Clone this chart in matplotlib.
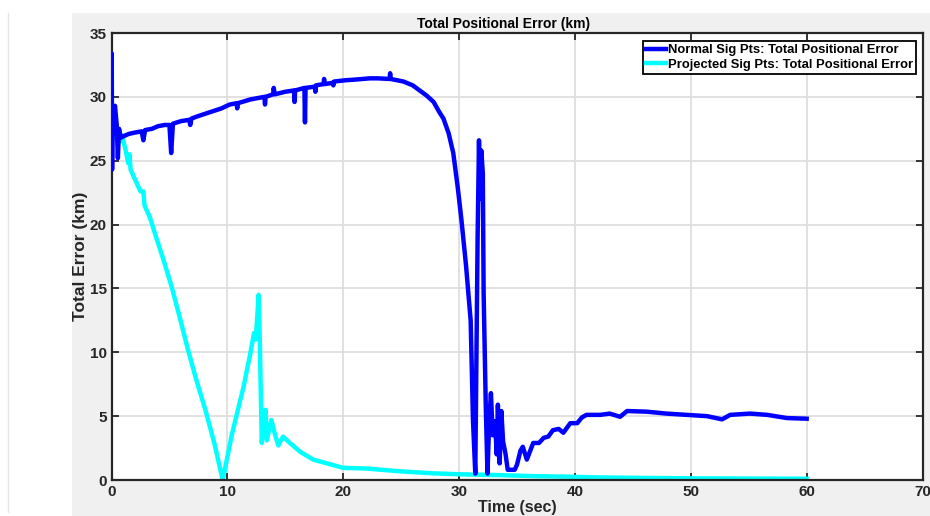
#!/usr/bin/env python3
"""Total positional error: normal vs projected sigma points."""

import matplotlib

matplotlib.use("Agg")
import matplotlib.pyplot as plt
from matplotlib.lines import Line2D
from matplotlib.patches import Rectangle

# Normal sigma points
normal_t = [
    0.00, 0.02, 0.05, 0.10, 0.20, 0.30, 0.45, 0.55, 0.65, 0.80,
    1.00, 1.50, 2.00, 2.60, 2.75, 2.90, 3.50, 4.00, 4.60, 5.00,
    5.15, 5.30, 6.00, 6.70, 6.80, 6.90, 7.50, 8.50, 9.50, 10.20,
    10.80, 10.85, 10.90, 12.00, 13.20, 13.25, 13.30, 13.95, 14.00, 14.10,
    15.00, 15.75, 15.80, 15.85, 16.65, 16.70, 16.75, 17.55, 17.60, 17.65,
    18.30, 18.35, 18.40, 19.10, 19.15, 19.20, 20.20, 21.00, 22.30, 23.00,
    24.00, 24.05, 24.10, 25.20, 26.00, 26.60, 27.20, 27.80, 28.30, 28.65,
    29.10, 29.50, 29.90, 30.20, 30.60, 31.00, 31.20, 31.40, 31.50, 31.60,
    31.72, 31.80, 31.92, 32.05, 32.12, 32.30, 32.45, 32.60, 32.75, 32.90,
    33.10, 33.25, 33.35, 33.50, 33.65, 33.80, 34.00, 34.20, 34.80, 35.00,
    35.30, 35.50, 35.85, 36.40, 36.90, 37.30, 37.70, 38.10, 38.60, 39.00,
    39.60, 40.20, 40.60, 41.00, 42.20, 43.00, 43.90, 44.50, 46.20, 47.90,
    49.70, 51.40, 52.70, 53.40, 55.10, 56.60, 58.30, 60.00,
]
normal_err = [
    27.5, 33.4, 24.3, 29.0, 28.5, 29.3, 27.8, 25.2, 27.5, 26.8,
    26.9, 27.1, 27.2, 27.3, 26.6, 27.4, 27.5, 27.7, 27.8, 27.8,
    25.6, 27.9, 28.1, 28.2, 27.8, 28.3, 28.5, 28.8, 29.1, 29.4,
    29.5, 29.1, 29.5, 29.8, 30.0, 29.4, 30.0, 30.2, 30.7, 30.2,
    30.4, 30.5, 29.6, 30.5, 30.7, 28.0, 30.7, 30.8, 30.4, 30.9,
    31.0, 31.4, 31.0, 31.1, 30.9, 31.2, 31.3, 31.35, 31.45, 31.45,
    31.4, 31.85, 31.4, 31.2, 30.9, 30.5, 30.1, 29.6, 28.8, 28.3,
    27.15, 25.6, 22.8, 20.4, 16.8, 12.5, 4.7, 0.5, 10.0, 19.0,
    26.6, 22.0, 25.8, 24.0, 14.6, 6.0, 0.5, 4.5, 6.8, 3.5,
    4.6, 2.0, 5.9, 1.3, 5.4, 3.0, 2.1, 0.8, 0.8, 1.2,
    2.3, 2.6, 1.6, 2.9, 2.9, 3.3, 3.4, 3.9, 4.0, 3.7,
    4.45, 4.45, 4.9, 5.1, 5.1, 5.2, 4.95, 5.4, 5.35, 5.2,
    5.1, 5.0, 4.75, 5.1, 5.2, 5.1, 4.85, 4.8,
]

# Projected sigma points
proj_t = [
    0.00, 0.15, 0.30, 0.50, 0.70, 0.90, 1.20, 1.45, 1.55, 1.65,
    2.00, 2.50, 2.75, 2.85, 3.30, 3.75, 4.50, 5.20, 5.90, 6.60,
    7.30, 8.10, 8.90, 9.60, 10.40, 11.40, 12.00, 12.30, 12.45, 12.70,
    12.80, 12.97, 13.15, 13.30, 13.40, 13.80, 14.10, 14.40, 14.80, 15.40,
    16.30, 17.40, 18.60, 20.00, 22.00, 24.90, 27.80, 30.10, 33.50, 36.50,
    39.30, 42.20, 46.00, 50.00, 55.00, 60.00,
]
proj_err = [
    27.8, 26.8, 27.6, 27.2, 26.5, 27.0, 25.9, 24.8, 25.5, 24.3,
    23.6, 22.6, 22.6, 21.5, 20.6, 19.3, 17.2, 15.1, 12.7, 10.2,
    7.9, 5.5, 2.8, 0.0, 3.6, 7.3, 10.0, 11.5, 11.0, 14.5,
    10.9, 2.9, 4.8, 5.5, 3.1, 4.7, 3.6, 2.7, 3.4, 2.9,
    2.2, 1.6, 1.3, 0.95, 0.9, 0.68, 0.52, 0.45, 0.38, 0.30,
    0.26, 0.20, 0.16, 0.13, 0.11, 0.10,
]

x_ticks = [0, 10, 20, 30, 40, 50, 60, 70]
y_ticks = [0, 5, 10, 15, 20, 25, 30, 35]
legend_labels = [
    "Normal Sig Pts: Total Positional Error",
    "Projected Sig Pts: Total Positional Error",
]

BLUE = "#0000ff"
CYAN = "#00ffff"
AXIS_COLOR = "#262626"
GRID_COLOR = "#dedede"
BG_COLOR = "#f0f0f0"

plt.rcParams["font.family"] = ["Liberation Sans", "DejaVu Sans"]
plt.rcParams["font.weight"] = "bold"

W, H = 930, 516
fig = plt.figure(figsize=(W / 100, H / 100), dpi=100)
fig.patch.set_facecolor("white")

# grey MATLAB figure panel and the thin page edge on the left
fig.patches.append(Rectangle((72 / W, 0), (W - 72) / W, (H - 13) / H,
                             transform=fig.transFigure, facecolor=BG_COLOR,
                             edgecolor="none", zorder=-10))
fig.lines.append(Line2D([8 / W, 8 / W], [4 / H, (H - 13) / H], transform=fig.transFigure,
                        color="#e6e6e6", linewidth=1.0))

ax = fig.add_axes([111.5 / W, 36 / H, 811 / W, 447 / H])
ax.set_facecolor("white")

ax.plot(normal_t, normal_err, color=BLUE, linewidth=3.2, solid_joinstyle="round",
        label=legend_labels[0], zorder=3)
ax.plot(proj_t, proj_err, color=CYAN, linewidth=3.2, solid_joinstyle="round",
        label=legend_labels[1], zorder=2)

ax.set_xlim(0, 70)
ax.set_ylim(0, 35)
ax.set_xticks(x_ticks)
ax.set_yticks(y_ticks)
ax.grid(True, color=GRID_COLOR, linewidth=1.3)
ax.set_axisbelow(True)

for spine in ax.spines.values():
    spine.set_color(AXIS_COLOR)
    spine.set_linewidth(1.6)
ax.tick_params(direction="in", length=5, width=1.3, colors=AXIS_COLOR,
               top=True, right=True, labelsize=11, pad=3.5)
for lbl in ax.get_xticklabels() + ax.get_yticklabels():
    lbl.set_fontweight("bold")

ax.set_title("Total Positional Error (km)", fontsize=10, fontweight="bold",
             color="#000000", pad=3.5, x=0.484)
ax.set_ylabel("Total Error (km)", fontsize=12.5, fontweight="bold", color=AXIS_COLOR, labelpad=1)
ax.set_xlabel("Time (sec)", fontsize=11.5, fontweight="bold", color=AXIS_COLOR, labelpad=1)

leg = ax.legend(loc="upper right", bbox_to_anchor=(916 / W, 1 - 41 / H),
                bbox_transform=fig.transFigure, borderaxespad=0, fontsize=9.4,
                frameon=True, fancybox=False, handlelength=1.5, handletextpad=0.15,
                borderpad=0.25, labelspacing=0.15)
leg.get_frame().set_edgecolor("#000000")
leg.get_frame().set_linewidth(1.3)
leg.get_frame().set_alpha(1)
for text in leg.get_texts():
    text.set_fontweight("bold")
    text.set_color("#000000")

fig.savefig("out.png", dpi=100)
